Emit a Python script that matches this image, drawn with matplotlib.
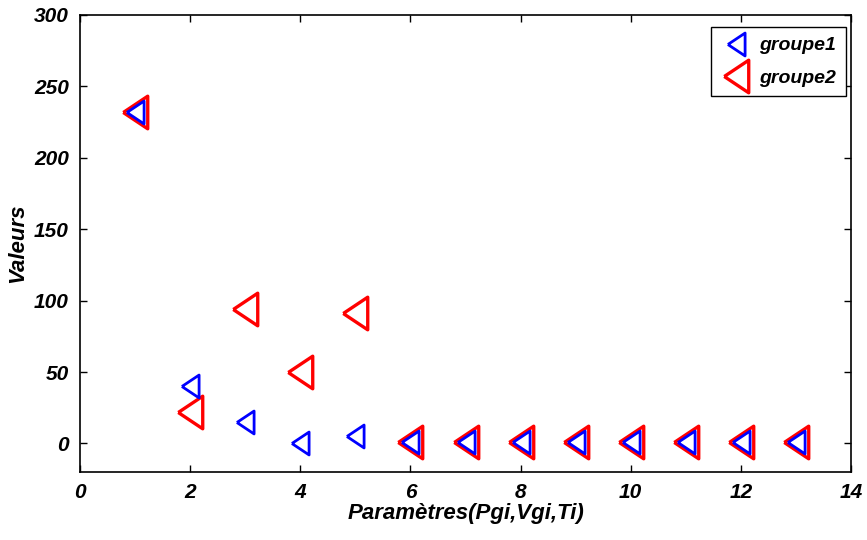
import matplotlib.pyplot as plt
import numpy as np

plt.rcParams['font.family'] = ['Liberation Sans', 'DejaVu Sans']

x = [1, 2, 3, 4, 5, 6, 7, 8, 9, 10, 11, 12, 13]
groupe1 = [232, 40, 15, 0, 5, 1, 1, 1, 1, 1, 1, 1, 1]
groupe2 = [232, 22, 94, 50, 91, 1, 1, 1, 1, 1, 1, 1, 1]

# left-pointing triangle, a bit narrower than matplotlib's '<' (matlab look)
tri = [(-0.75, 0), (0.75, 1), (0.75, -1), (-0.75, 0)]

fig = plt.figure(figsize=(8.67, 5.4), dpi=100)
ax = fig.add_axes([80/867, 1-472/540, 771/867, 457/540])

ax.plot(x, groupe2, marker=tri, color='r', markerfacecolor='none', markersize=23.5,
        markeredgewidth=2.4, linestyle='none', label='groupe2')
ax.plot(x, groupe1, marker=tri, color='b', markerfacecolor='none', markersize=16.5,
        markeredgewidth=2.0, linestyle='none', label='groupe1')

ax.set_xlim(0, 14)
ax.set_ylim(-20, 300)
ax.set_xticks(range(0, 15, 2))
ax.set_yticks(range(0, 301, 50))
ax.tick_params(direction='in', top=True, right=True, length=5, width=1, labelsize=15, pad=8)
for lab in ax.get_xticklabels() + ax.get_yticklabels():
    lab.set_fontweight('bold')
    lab.set_fontstyle('italic')
for sp in ax.spines.values():
    sp.set_linewidth(1.2)

ax.set_xlabel('Paramètres(Pgi,Vgi,Ti)', fontsize=16, fontweight='bold', fontstyle='italic', labelpad=1)
ax.set_ylabel('Valeurs', fontsize=16, fontweight='bold', fontstyle='italic', labelpad=4)

h, l = ax.get_legend_handles_labels()
leg = ax.legend(h[::-1], l[::-1], loc='upper right', bbox_to_anchor=(0.9935, 0.9737),
                prop={'weight': 'bold', 'style': 'italic', 'size': 14},
                fancybox=False, edgecolor='k', framealpha=1, borderpad=0.5,
                handletextpad=0.4, labelspacing=0.75, handlelength=1.6, borderaxespad=0)
leg.get_frame().set_linewidth(1)

fig.savefig('out.png', dpi=100)
